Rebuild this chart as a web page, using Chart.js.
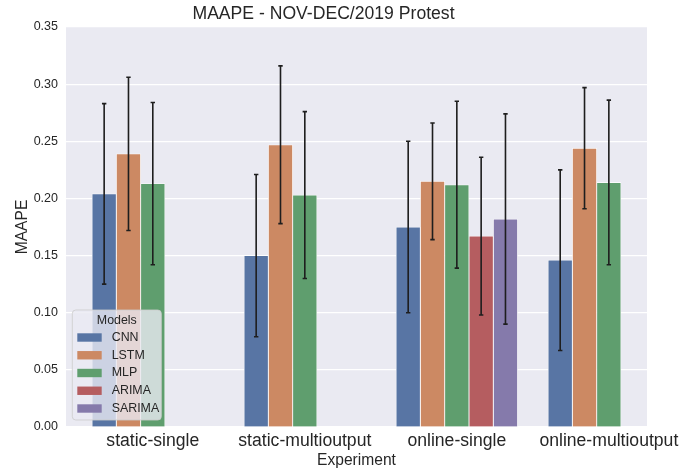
<!DOCTYPE html>
<html>
<head>
<meta charset="utf-8">
<script src="https://cdn.jsdelivr.net/npm/chart.js@4"></script>
<style>
  html, body { margin: 0; padding: 0; background: #ffffff; }
  #wrap { width: 680px; height: 472px; }
</style>
</head>
<body>
<div id="wrap"><canvas id="chart" width="680" height="472"></canvas></div>
<script>
// categories on the x axis and hue models
const experiments = ['static-single', 'static-multioutput', 'online-single', 'online-multioutput'];
const models = ['CNN', 'LSTM', 'MLP', 'ARIMA', 'SARIMA'];

// mean MAAPE per experiment (null = model not run)
const cnnMean = [0.204, 0.150, 0.175, 0.146];
const lstmMean = [0.239, 0.247, 0.215, 0.244];
const mlpMean = [0.213, 0.203, 0.212, 0.214];
const arimaMean = [null, null, 0.167, null];
const sarimaMean = [null, null, 0.182, null];

// error bar half-lengths (sd)
const cnnErr = [0.079, 0.071, 0.075, 0.079];
const lstmErr = [0.067, 0.069, 0.051, 0.053];
const mlpErr = [0.071, 0.073, 0.073, 0.072];
const arimaErr = [null, null, 0.069, null];
const sarimaErr = [null, null, 0.092, null];

const yTicks = [0, 0.05, 0.10, 0.15, 0.20, 0.25, 0.30, 0.35];

const means = [cnnMean, lstmMean, mlpMean, arimaMean, sarimaMean];
const errs = [cnnErr, lstmErr, mlpErr, arimaErr, sarimaErr];
const colors = ['#5875a4', '#cc8963', '#5f9e6e', '#b55d60', '#857aab'];

const TEXT = '#262626';
const FONT = "'Liberation Sans', Arial, sans-serif";

// seaborn style dodge: 0.8 of a category split over the hues
const hueWidth = 0.8 / models.length;

const datasets = models.map((name, h) => {
  const pts = [];
  means[h].forEach((v, i) => {
    if (v === null) return;
    pts.push({ x: i + (h - (models.length - 1) / 2) * hueWidth, y: v, err: errs[h][i] });
  });
  return {
    label: name,
    data: pts,
    backgroundColor: colors[h],
    borderColor: 'rgba(255,255,255,0.75)',
    borderWidth: 0.8,
    grouped: false,
    categoryPercentage: 1,
    barPercentage: 1
  };
});

const plotBg = {
  id: 'plotBg',
  beforeDraw(chart) {
    const { ctx, chartArea: a } = chart;
    ctx.save();
    ctx.fillStyle = '#eaeaf2';
    ctx.fillRect(a.left, a.top, a.right - a.left, a.bottom - a.top);
    ctx.restore();
  }
};

const errorBars = {
  id: 'errorBars',
  afterDatasetsDraw(chart) {
    const { ctx } = chart;
    const yScale = chart.scales.y;
    ctx.save();
    ctx.strokeStyle = '#1e1e1e';
    ctx.lineWidth = 1.6;
    chart.data.datasets.forEach((ds, d) => {
      const meta = chart.getDatasetMeta(d);
      meta.data.forEach((bar, i) => {
        const p = ds.data[i];
        const top = yScale.getPixelForValue(p.y + p.err);
        const bot = yScale.getPixelForValue(p.y - p.err);
        ctx.beginPath();
        ctx.moveTo(bar.x, top);
        ctx.lineTo(bar.x, bot);
        ctx.moveTo(bar.x - 2.2, top);
        ctx.lineTo(bar.x + 2.2, top);
        ctx.moveTo(bar.x - 2.2, bot);
        ctx.lineTo(bar.x + 2.2, bot);
        ctx.stroke();
      });
    });
    ctx.restore();
  }
};

const boxLegend = {
  id: 'boxLegend',
  afterDraw(chart) {
    const { ctx, chartArea: a } = chart;
    const w = 89, h = 110;
    const x0 = a.left + 6.3, y0 = a.bottom - 7 - h;
    ctx.save();
    ctx.beginPath();
    ctx.roundRect(x0, y0, w, h, 3.5);
    ctx.fillStyle = 'rgba(234,234,242,0.8)';
    ctx.fill();
    ctx.strokeStyle = 'rgba(204,204,204,0.8)';
    ctx.lineWidth = 1;
    ctx.stroke();
    ctx.font = '12.4px ' + FONT;
    ctx.fillStyle = TEXT;
    ctx.textBaseline = 'middle';
    ctx.textAlign = 'center';
    ctx.fillText('Models', x0 + w / 2, y0 + 10.5);
    ctx.textAlign = 'left';
    chart.data.datasets.forEach((ds, i) => {
      const cy = y0 + 27.5 + i * 17.75;
      ctx.fillStyle = ds.backgroundColor;
      ctx.fillRect(x0 + 5, cy - 4.2, 24.4, 8.4);
      ctx.fillStyle = TEXT;
      ctx.fillText(ds.label, x0 + 39.4, cy);
    });
    ctx.restore();
  }
};

new Chart(document.getElementById('chart'), {
  type: 'bar',
  data: { datasets },
  options: {
    responsive: false,
    animation: false,
    layout: { padding: { left: 0, right: 33, top: 0, bottom: 0 } },
    plugins: {
      legend: { display: false },
      tooltip: { enabled: false },
      title: {
        display: true,
        text: 'MAAPE - NOV-DEC/2019 Protest',
        color: TEXT,
        font: { family: FONT, size: 17.6, weight: 'normal', lineHeight: 1.2 },
        padding: { top: 3.5, bottom: 2.4 }
      }
    },
    scales: {
      x: {
        type: 'linear',
        offset: false,
        min: -0.571,
        max: 3.251,
        grid: { display: false, drawTicks: false },
        border: { display: false },
        ticks: {
          stepSize: 1,
          includeBounds: false,
          autoSkip: false,
          maxRotation: 0,
          padding: 4,
          color: TEXT,
          font: { family: FONT, size: 17.6 },
          callback: (v) => Number.isInteger(v) ? experiments[v] : ''
        },
        title: {
          display: true,
          text: 'Experiment',
          color: TEXT,
          font: { family: FONT, size: 15.6, lineHeight: 1.2 },
          padding: { top: 2, bottom: 2 }
        },
        afterFit(scale) {
          scale.height = 45;
          scale.paddingLeft = 0;
          scale.paddingRight = 0;
        }
      },
      y: {
        min: 0,
        max: 0.35,
        grid: { color: '#ffffff', lineWidth: 1.2, drawTicks: false },
        border: { display: false },
        afterBuildTicks(scale) {
          scale.ticks = yTicks.map(v => ({ value: v }));
        },
        ticks: {
          padding: 8,
          color: TEXT,
          font: { family: FONT, size: 12.5 },
          callback: (v) => v.toFixed(2)
        },
        title: {
          display: true,
          text: 'MAAPE',
          color: TEXT,
          font: { family: FONT, size: 15.6, lineHeight: 1.2 },
          padding: { top: 13, bottom: 13 }
        },
        afterFit(scale) {
          scale.width = 66;
          scale.paddingTop = 0;
          scale.paddingBottom = 0;
        }
      }
    }
  },
  plugins: [plotBg, errorBars, boxLegend]
});
</script>
</body>
</html>
